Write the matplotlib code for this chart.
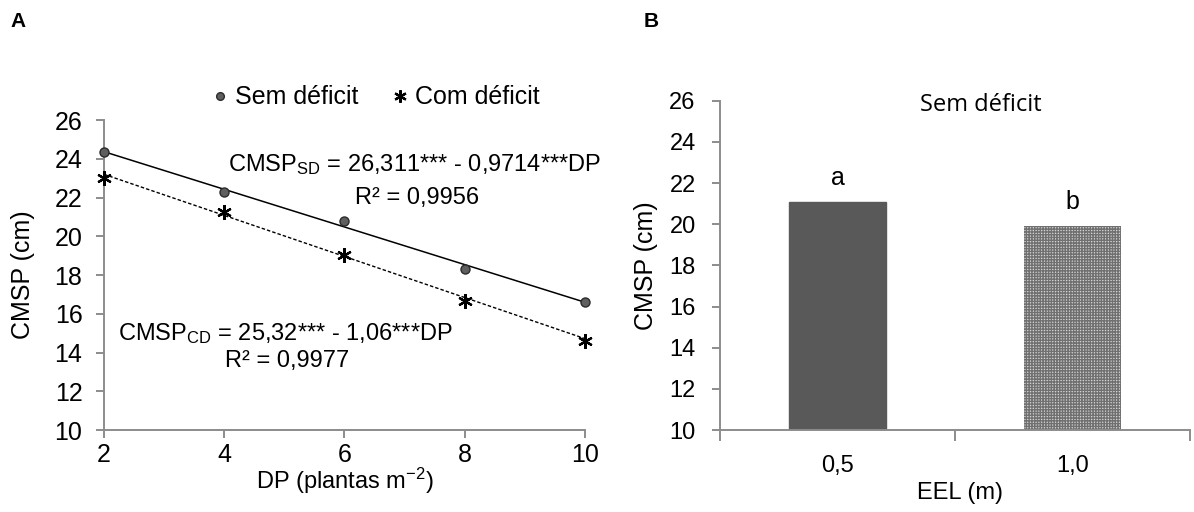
import matplotlib
matplotlib.use('Agg')
import matplotlib.pyplot as plt
import numpy as np

plt.rcParams['font.family'] = ['Liberation Sans', 'DejaVu Sans']
plt.rcParams['mathtext.fontset'] = 'custom'
plt.rcParams['mathtext.rm'] = 'Liberation Sans'
plt.rcParams['mathtext.it'] = 'Liberation Sans:italic'
plt.rcParams['hatch.linewidth'] = 1.0

# panel A: plant density vs. CMSP
dp = [2, 4, 6, 8, 10]
sem_deficit = [24.35, 22.27, 20.80, 18.31, 16.62]
com_deficit = [23.00, 21.27, 19.03, 16.68, 14.62]
coef_sd = (26.311, -0.9714)
coef_cd = (25.32, -1.06)

# panel B: row spacing
eel = ['0,5', '1,0']
cmsp_eel = [21.06, 19.93]
letras = ['a', 'b']

axis_gray = '#8c8c8c'

fig = plt.figure(figsize=(11.94, 5.12), dpi=100)
ax1 = fig.add_axes([0.0871, 0.160, 0.4028, 0.6055])
ax2 = fig.add_axes([0.6030, 0.160, 0.3936, 0.6432])

def style_axes(ax):
    for s in ['top', 'right']:
        ax.spines[s].set_visible(False)
    for s in ['left', 'bottom']:
        ax.spines[s].set_color(axis_gray)
        ax.spines[s].set_linewidth(1.4)
    ax.tick_params(direction='out', length=5.5, width=1.4, color=axis_gray,
                   labelsize=18)

# --- A ---
xs = np.array([2, 10])
ax1.plot(xs, coef_sd[0] + coef_sd[1] * xs, color='black', lw=1.1)
ax1.plot(xs, coef_cd[0] + coef_cd[1] * xs, color='black', lw=1.0,
         dashes=(2.5, 1.5))
ax1.plot(dp, sem_deficit, 'o', ms=6.5, mfc='#5f5f5f', mec='#2b2b2b',
         mew=1.0, ls='none', clip_on=False, zorder=5, label='Sem déficit')
ax1.plot(dp, com_deficit, marker=(6, 2, 0), ms=10.5, mec='black', mew=1.6,
         ls='none', clip_on=False, zorder=5, label='Com déficit')
ax1.set_xlim(2, 10)
ax1.set_ylim(10, 26)
ax1.set_xticks(dp)
ax1.set_yticks(range(10, 27, 2))
style_axes(ax1)
ax1.tick_params(axis='y', pad=10)
ax1.tick_params(axis='x', pad=4)
ax1.set_xlabel('DP (plantas m$^{-2}$)', fontsize=17)
ax1.xaxis.label.set_va('center')
ax1.xaxis.set_label_coords(0.5, -0.163)
ax1.set_ylabel('CMSP (cm)', fontsize=18, va='center', rotation_mode='anchor')
ax1.yaxis.set_label_coords(-0.168, 0.5)

ax1.text(0.258, 0.855, 'CMSP$_{\\mathrm{SD}}$ = 26,311*** - 0,9714***DP',
         transform=ax1.transAxes, fontsize=17, va='center', ha='left')
ax1.text(0.651, 0.748, 'R² = 0,9956', transform=ax1.transAxes, fontsize=17,
         va='center', ha='center')
ax1.text(0.030, 0.310, 'CMSP$_{\\mathrm{CD}}$ = 25,32*** - 1,06***DP',
         transform=ax1.transAxes, fontsize=17, va='center', ha='left')
ax1.text(0.380, 0.223, 'R² = 0,9977', transform=ax1.transAxes, fontsize=17,
         va='center', ha='center')

fig.legend(loc='center', bbox_to_anchor=(0.315, 0.81), ncol=2, frameon=False,
           fontsize=18, handlelength=0.6, handletextpad=0.3,
           columnspacing=1.4, markerscale=0.85, borderpad=0)

# --- B ---
pos = np.arange(len(eel))
bars = ax2.bar(pos, cmsp_eel, width=0.41, bottom=0, zorder=2)
bars[0].set_facecolor('#595959')
bars[0].set_edgecolor('#595959')
bars[1].set_facecolor('#d4d4d4')
bars[1].set_edgecolor('#707070')
bars[1].set_hatch('++++++')
bars[1].set_linewidth(0)
for p, v, l in zip(pos, cmsp_eel, letras):
    ax2.text(p, v + 1.17, l, ha='center', va='center', fontsize=18)
ax2.set_xlim(-0.5, 1.5)
ax2.set_ylim(10, 26)
ax2.set_yticks(range(10, 27, 2))
ax2.set_xticks([-0.5, 0.5, 1.5], minor=False)
ax2.set_xticklabels([])
ax2.set_xticks(pos, minor=True)
ax2.set_xticklabels(eel, minor=True)
style_axes(ax2)
ax2.tick_params(axis='y', pad=12, labelsize=17)
ax2.tick_params(axis='x', which='major', length=8)
ax2.tick_params(axis='x', which='minor', length=0, pad=18, labelsize=17)
ax2.set_xlabel('EEL (m)', fontsize=17)
ax2.xaxis.label.set_va('center')
ax2.xaxis.set_label_coords(0.51, -0.191)
ax2.set_ylabel('CMSP (cm)', fontsize=18, va='center', rotation_mode='anchor')
ax2.yaxis.set_label_coords(-0.157, 0.5)
ax2.text(0.555, 0.987, 'Sem déficit', transform=ax2.transAxes, ha='center',
         va='center', fontsize=17, family=['Open Sans', 'DejaVu Sans'])

fig.text(0.015, 0.958, 'A', fontsize=15, fontweight='bold', va='center',
         ha='center')
fig.text(0.545, 0.958, 'B', fontsize=15, fontweight='bold', va='center',
         ha='center')

fig.savefig('out.png', dpi=100, facecolor='white')
